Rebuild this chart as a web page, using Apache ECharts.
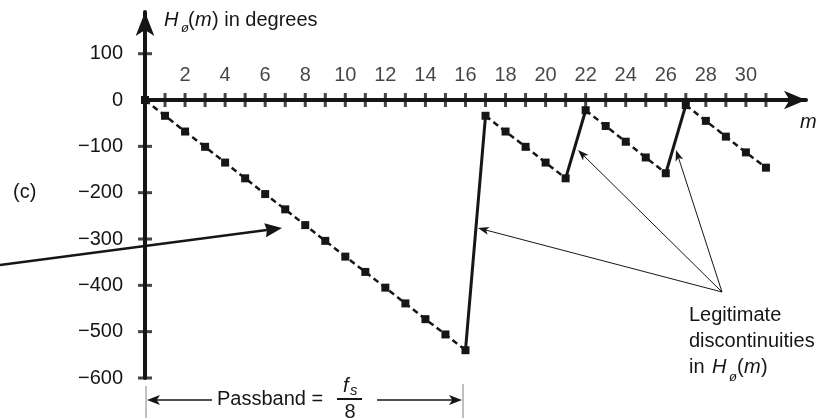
<!DOCTYPE html>
<html>
<head>
<meta charset="utf-8">
<script src="https://cdn.jsdelivr.net/npm/echarts@6/dist/echarts.min.js"></script>
<style>
  html, body { margin: 0; padding: 0; background: #fff; }
  #main { width: 817px; height: 420px; }
</style>
</head>
<body>
<div id="main"></div>
<script>
// frequency index m and the phase H(m), in degrees
var mIndex = [0, 1, 2, 3, 4, 5, 6, 7, 8, 9, 10, 11, 12, 13, 14, 15, 16,
              17, 18, 19, 20, 21, 22, 23, 24, 25, 26, 27, 28, 29, 30, 31];
var phaseDeg = [0, -34, -68, -101, -135, -169, -203, -236, -270, -304, -338, -371, -405, -439, -473, -506, -540,
                -34, -68, -101, -135, -169, -22, -56, -90, -124, -158, -11, -45, -79, -113, -146];
// last index before each phase wrap
var jumpAfter = [16, 21, 26];

var xTickValues = [1, 2, 3, 4, 5, 6, 7, 8, 9, 10, 11, 12, 13, 14, 15, 16,
                   17, 18, 19, 20, 21, 22, 23, 24, 25, 26, 27, 28, 29, 30, 31];
var xLabels = [2, 4, 6, 8, 10, 12, 14, 16, 18, 20, 22, 24, 26, 28, 30];
var yTickValues = [100, -100, -200, -300, -400, -500, -600];
var yLabels = [100, 0, -100, -200, -300, -400, -500, -600];

var INK = '#161616';
var FONT = '"Liberation Sans", Arial, sans-serif';

function buildSeries() {
    var series = [];
    // cross ticks on both axes
    series.push({
        type: 'scatter', silent: true, z: 1,
        symbol: 'rect', symbolSize: [3, 14],
        itemStyle: { color: INK },
        data: xTickValues.map(function (m) { return [m, 0]; })
    });
    series.push({
        type: 'scatter', silent: true, z: 1,
        symbol: 'rect', symbolSize: [14, 3],
        itemStyle: { color: INK },
        data: yTickValues.map(function (v) { return [0, v]; })
    });
    // m labels sit just above the zero line
    series.push({
        type: 'scatter', silent: true, z: 1,
        symbolSize: 0,
        label: {
            show: true, position: 'top', distance: 15,
            fontSize: 20, color: INK, fontFamily: FONT,
            formatter: function (p) { return String(p.value[0]); }
        },
        data: xLabels.map(function (m) { return [m, 0]; })
    });

    // dashed runs between the wraps
    var start = 0;
    var ends = jumpAfter.concat([mIndex.length - 1]);
    ends.forEach(function (end) {
        var pts = [];
        for (var i = start; i <= end; i++) pts.push([mIndex[i], phaseDeg[i]]);
        series.push({
            type: 'line', z: 3, silent: true,
            symbol: 'rect', symbolSize: 8, showSymbol: true,
            itemStyle: { color: INK },
            lineStyle: { color: INK, width: 2.5, type: [6, 4] },
            data: pts
        });
        start = end + 1;
    });

    // solid lines at the discontinuities
    jumpAfter.forEach(function (i) {
        series.push({
            type: 'line', z: 2, silent: true, showSymbol: false,
            lineStyle: { color: INK, width: 3 },
            data: [[mIndex[i], phaseDeg[i]], [mIndex[i + 1], phaseDeg[i + 1]]]
        });
    });
    return series;
}

// straight arrow: shaft plus a filled head
function arrow(x1, y1, x2, y2, w, len, half, notch) {
    var a = Math.atan2(y2 - y1, x2 - x1);
    var c = Math.cos(a), s = Math.sin(a);
    var bx = x2 - len * c, by = y2 - len * s;
    var nx = x2 - len * notch * c, ny = y2 - len * notch * s;
    return [
        { type: 'polyline', silent: true,
          shape: { points: [[x1, y1], [nx, ny]] },
          style: { stroke: INK, lineWidth: w, fill: null } },
        { type: 'polygon', silent: true,
          shape: { points: [[x2, y2], [bx - half * s, by + half * c], [nx, ny], [bx + half * s, by - half * c]] },
          style: { fill: INK } }
    ];
}

function txt(x, y, text, size, opts) {
    return {
        type: 'text', silent: true, x: x, y: y,
        style: {
            text: text, fill: INK, font: (opts && opts.italic ? 'italic ' : '') + size + 'px ' + FONT,
            textAlign: (opts && opts.align) || 'left', textVerticalAlign: 'middle'
        }
    };
}

var graphics = [];
graphics.push(txt(13, 192, '(c)', 20));
// y axis title
graphics.push(txt(164, 20, 'H', 20, { italic: true }));
graphics.push(txt(181, 28, 'ø', 13, { italic: true }));
graphics.push(txt(188, 20, '(', 20));
graphics.push(txt(195, 20, 'm', 20, { italic: true }));
graphics.push(txt(212, 20, ') in degrees', 20));
graphics.push(txt(800, 122, 'm', 20, { italic: true }));

// pointer into the falling run
graphics = graphics.concat(arrow(0, 265, 282, 228, 2.5, 17, 7, 0.9));

// legitimate discontinuities callout
graphics = graphics.concat(arrow(722, 292, 478, 228, 1, 11, 4, 0.75));
graphics = graphics.concat(arrow(722, 292, 578, 150, 1, 11, 4, 0.75));
graphics = graphics.concat(arrow(722, 292, 676, 150, 1, 11, 4, 0.75));
graphics.push(txt(689, 315, 'Legitimate', 20));
graphics.push(txt(689, 341, 'discontinuities', 20));
graphics.push(txt(689, 367, 'in', 20));
graphics.push(txt(712, 367, 'H', 20, { italic: true }));
graphics.push(txt(729, 377, 'ø', 13, { italic: true }));
graphics.push(txt(737, 367, '(', 20));
graphics.push(txt(744, 367, 'm', 20, { italic: true }));
graphics.push(txt(761, 367, ')', 20));

// passband bracket
graphics.push({ type: 'line', silent: true, shape: { x1: 146, y1: 386, x2: 146, y2: 418 },
                style: { stroke: '#aaa', lineWidth: 1.5 } });
graphics.push({ type: 'line', silent: true, shape: { x1: 463, y1: 384, x2: 463, y2: 418 },
                style: { stroke: '#aaa', lineWidth: 1.5 } });
graphics = graphics.concat(arrow(212, 400, 147, 400, 1.5, 13, 5, 0.75));
graphics = graphics.concat(arrow(377, 400, 462, 400, 1.5, 13, 5, 0.75));
graphics.push(txt(217, 399, 'Passband =', 20));
graphics.push(txt(343, 386, 'f', 20, { italic: true }));
graphics.push(txt(350, 391, 's', 15, { italic: true }));
graphics.push({ type: 'line', silent: true, shape: { x1: 337, y1: 399, x2: 362, y2: 399 },
                style: { stroke: INK, lineWidth: 2 } });
graphics.push(txt(350, 412, '8', 20, { align: 'center' }));

var myChart = echarts.init(document.getElementById('main'));
var option = {
    animation: false,
    backgroundColor: '#fff',
    grid: { left: 145, right: 11, top: 12, bottom: 42, containLabel: false, outerBoundsMode: 'none' },
    xAxis: {
        type: 'value', min: 0, max: 33, interval: 1,
        axisLine: { onZero: true, symbol: ['none', 'arrow'], symbolSize: [14, 22],
                    lineStyle: { color: INK, width: 4 } },
        axisTick: { show: false },
        splitLine: { show: false },
        axisLabel: { show: false }
    },
    yAxis: {
        type: 'value', min: -600, max: 190, interval: 100,
        axisLine: { onZero: false, symbol: ['none', 'arrow'], symbolSize: [14, 24],
                    lineStyle: { color: INK, width: 4 } },
        axisTick: { show: false },
        splitLine: { show: false },
        axisLabel: {
            margin: 22, fontSize: 20, color: INK, fontFamily: FONT,
            formatter: function (v) {
                if (yLabels.indexOf(v) < 0) return '';
                return v < 0 ? '\u2212' + (-v) : String(v);
            }
        }
    },
    series: buildSeries(),
    graphic: graphics
};
myChart.setOption(option);
</script>
</body>
</html>
